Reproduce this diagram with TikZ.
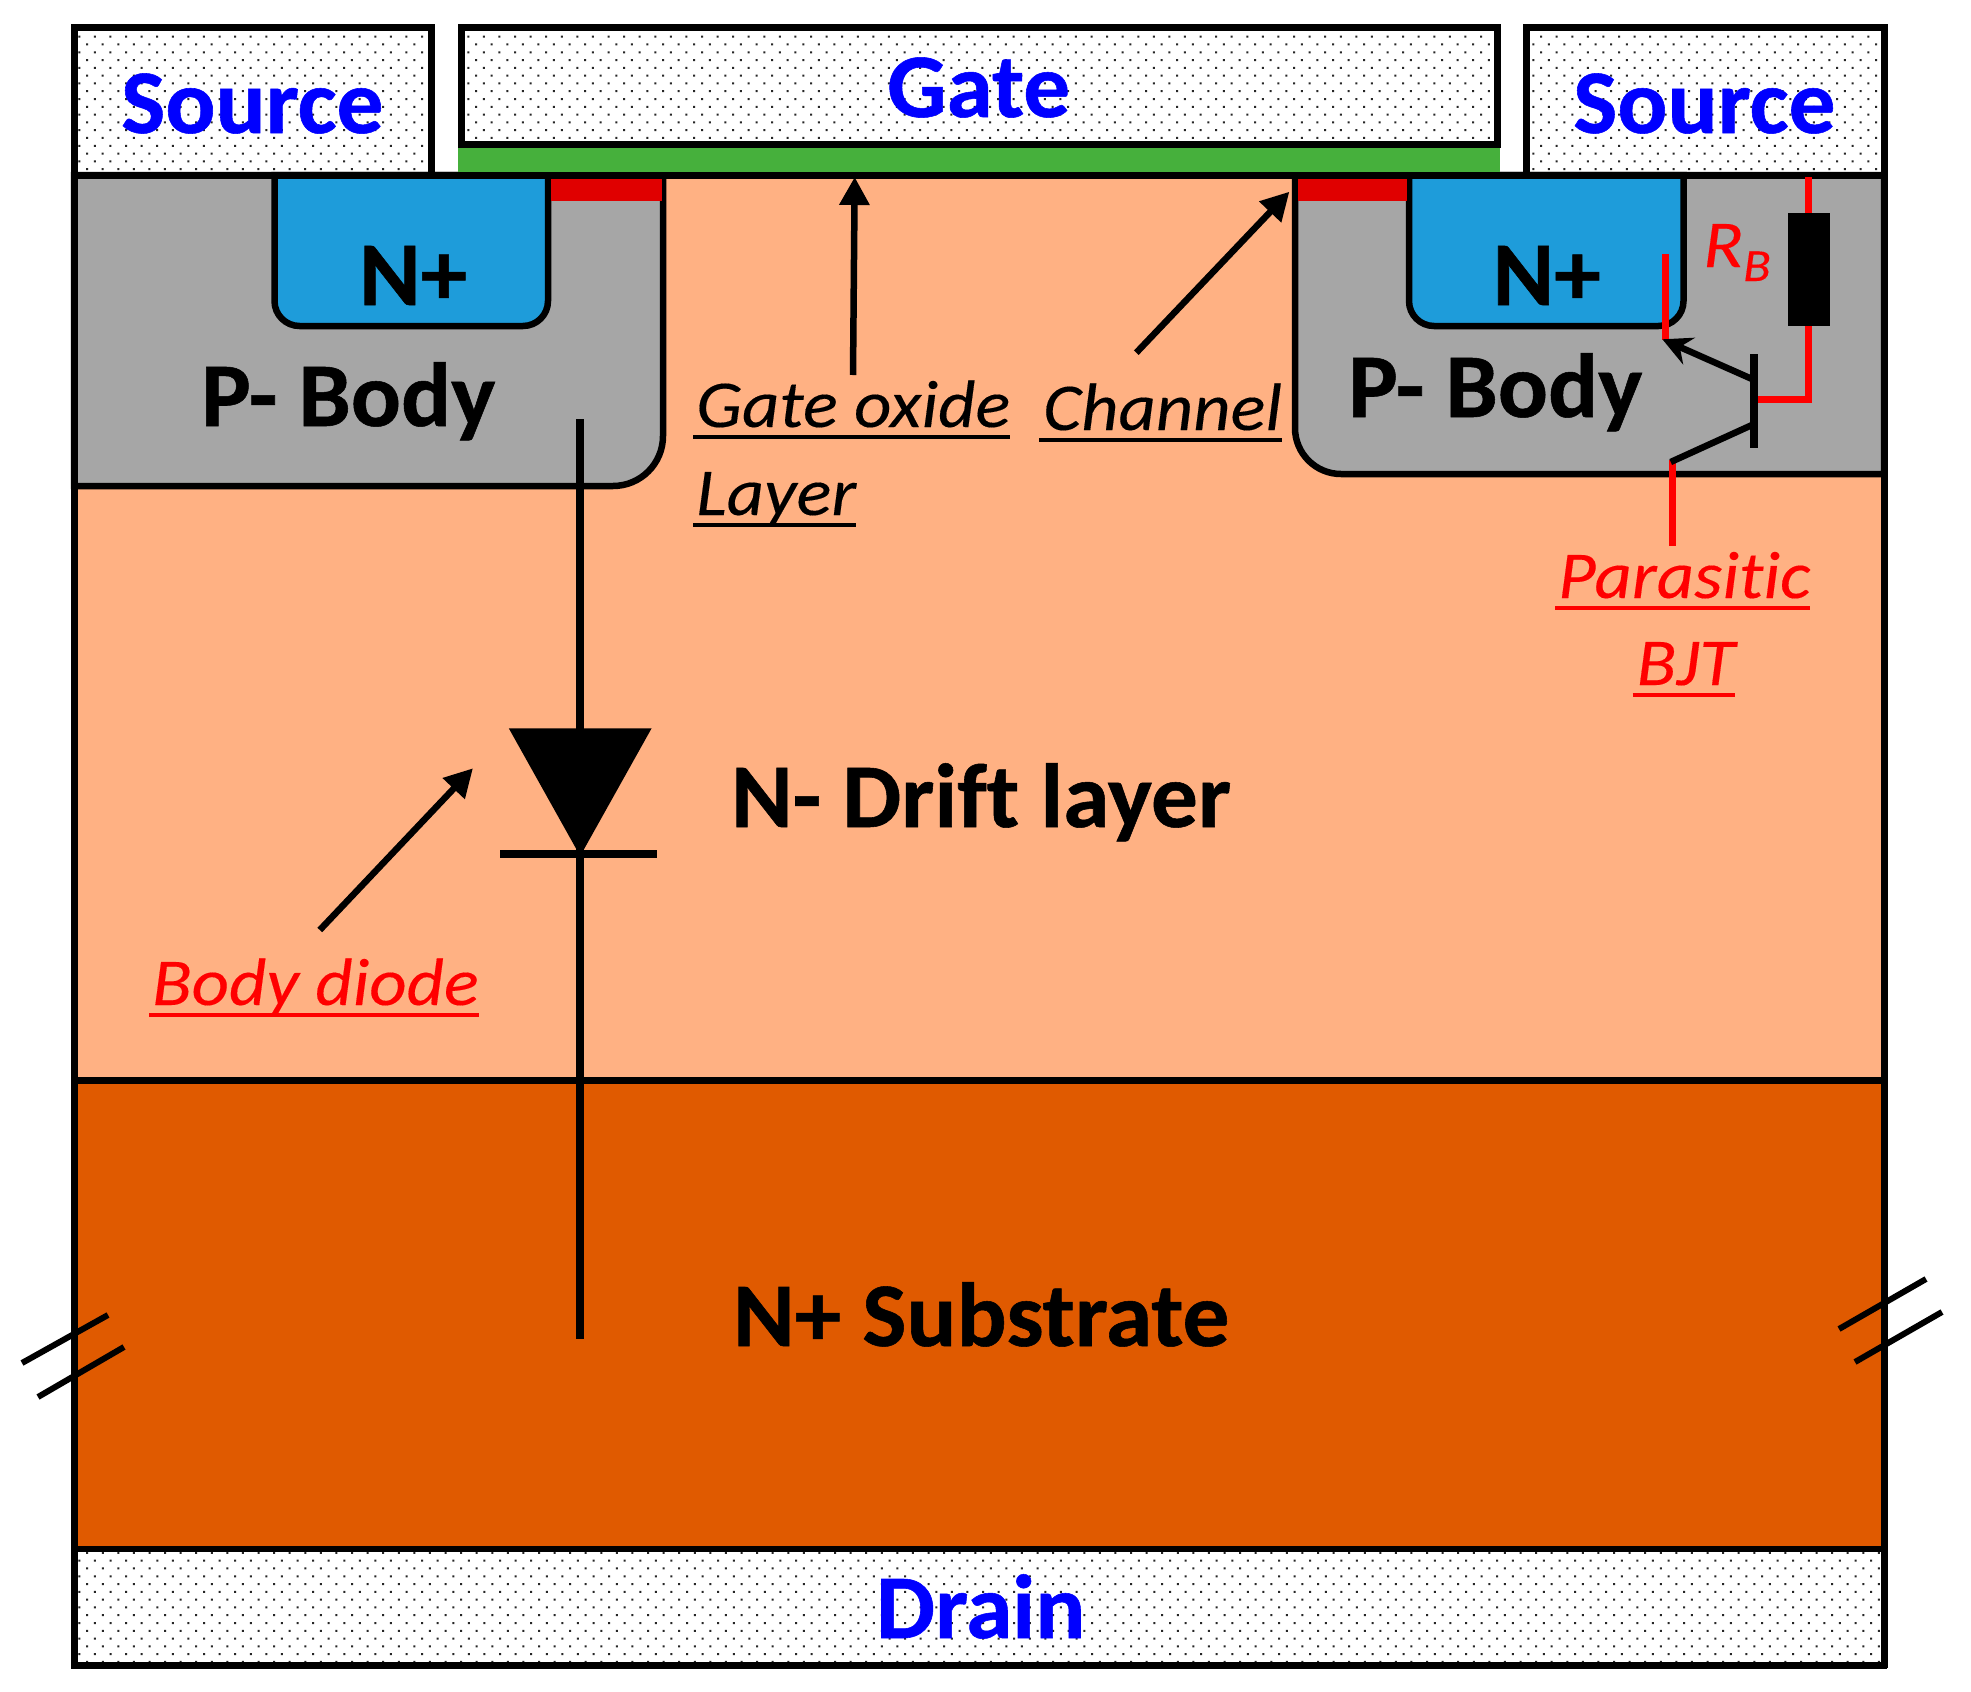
\documentclass[tikz,border=0pt]{standalone}
\usepackage{fontspec}
\setmainfont{Carlito}[Ligatures=NoCommon,BoldFeatures={FakeBold=0.6},ItalicFeatures={FakeBold=0.2}]
\usetikzlibrary{arrows.meta}
\definecolor{drift}{HTML}{FFB183}
\definecolor{subs}{HTML}{E05A00}
\definecolor{body}{HTML}{A6A6A6}
\definecolor{nplus}{HTML}{1E9CDA}
\definecolor{oxide}{HTML}{46B03C}
\definecolor{chan}{HTML}{E00000}
\newcommand{\bstr}[1]{\scalebox{1.026}[1]{#1}}
\newcommand{\ulin}[2][0pt]{\setbox0\hbox{\scalebox{1.085}[1]{#2}}\rlap{\hspace{#1}\rule[-11.5pt]{\dimexpr\wd0-#1\relax}{3.6pt}}\box0}
\newcommand{\dotgrid}[8]{%
  \begin{scope}
    \clip (#1,#2) rectangle (#3,#4);
    \fill[black!85] \foreach \i in {0,...,#7} {\foreach \j in {0,...,#8} {
      ({#5+\j*15.58+mod(\i,2)*7.79-1},{#6+\i*7.79-1}) rectangle ++(2,2)
    }};
  \end{scope}}
\tikzset{
  x=1pt,y=-1pt,
  frame/.style={draw=black,line width=7pt},
  thin frame/.style={draw=black,line width=6.5pt},
  term/.style={font=\fontsize{91}{91}\selectfont\bfseries,text=blue,inner sep=0pt,anchor=base west},
  big/.style={font=\fontsize{91}{91}\selectfont\bfseries,text=black,inner sep=0pt,anchor=base west},
  note/.style={font=\fontsize{67}{67}\selectfont\itshape,text=black,inner sep=0pt,anchor=base west},
  rednote/.style={note,text=red},
  lead/.style={draw=black,line width=6.5pt,-{Triangle[length=28pt,width=29pt]}},
  wire/.style={draw=black,line width=8pt},
  redwire/.style={draw=red,line width=7pt},
  hash/.style={draw=black,line width=6pt},
}
\begin{document}
\begin{tikzpicture}
\useasboundingbox (0,0) rectangle (1971,1692);
\fill[white] (0,0) rectangle (1971,1692);
% layers
\fill[drift] (74,175) rectangle (1884,1080);
\fill[subs] (74,1080) rectangle (1884,1549);
% body regions
\path[fill=body,thin frame] (74,175) -- (663,175) -- (663,436) arc[start angle=0,end angle=90,radius=50] -- (74,486) -- cycle;
\path[fill=body,thin frame] (1295,175) -- (1884,175) -- (1884,474) -- (1341,474) arc[start angle=90,end angle=180,radius=46] -- cycle;
% N+ wells
\path[fill=nplus,thin frame] (274.5,175) -- (548,175) -- (548,301) arc[start angle=0,end angle=90,radius=25] -- (299.5,326) arc[start angle=90,end angle=180,radius=25] -- cycle;
\path[fill=nplus,thin frame] (1409,175) -- (1683.5,175) -- (1683.5,301) arc[start angle=0,end angle=90,radius=25] -- (1434,326) arc[start angle=90,end angle=180,radius=25] -- cycle;
% channels
\fill[chan] (551,178) rectangle (662,201);
\fill[chan] (1298,178) rectangle (1407,201);
% gate oxide
\fill[oxide] (458,147) rectangle (1500,172.5);
% dotted terminals
\dotgrid{77}{30}{428}{172}{79.3}{36.7}{18}{23}
\dotgrid{464}{30}{1494}{141}{468.3}{36.7}{14}{66}
\dotgrid{1529}{30}{1881}{172}{1533.3}{28.9}{19}{23}
\dotgrid{78}{1552}{1881}{1663}{71.6}{1552.9}{14}{116}
\draw[frame] (74.5,172) -- (74.5,27) -- (431,27) -- (431,172);
\draw[frame] (461,27) rectangle (1497,144);
\draw[frame] (1526.5,172) -- (1526.5,27) -- (1884,27) -- (1884,172);
% outer lines
\draw[frame] (74.5,172) -- (74.5,1668.3);
\draw[frame] (1884,172) -- (1884,1668.3);
\draw[thin frame] (74,1080.5) -- (1884,1080.5);
\draw[thin frame] (74,1549) -- (1884,1549);
\draw[thin frame] (71,1665.5) -- (1887,1665.5);
\draw[frame] (71,175) -- (1887,175);
% break marks
\coordinate (hl1a) at (22,1363); \coordinate (hl1b) at (108,1315);
\coordinate (hl2a) at (38,1397); \coordinate (hl2b) at (124,1347);
\coordinate (hr1a) at (1839,1329); \coordinate (hr1b) at (1926,1279);
\coordinate (hr2a) at (1855,1362); \coordinate (hr2b) at (1942,1312);
\draw[hash] (hl1a) -- (hl1b);
\draw[hash] (hl2a) -- (hl2b);
\draw[hash] (hr1a) -- (hr1b);
\draw[hash] (hr2a) -- (hr2b);
% body diode
\coordinate (dA) at (580.2,419); \coordinate (dK) at (580.2,1339);
\coordinate (dT1) at (508.8,728.3); \coordinate (dT2) at (651.6,728.3); \coordinate (dT3) at (580.2,856);
\coordinate (dB1) at (500,854); \coordinate (dB2) at (657.3,854);
\draw[wire] (dA) -- (dK);
\fill[black] (dT1) -- (dT2) -- (dT3) -- cycle;
\draw[wire] (dB1) -- (dB2);
% resistor and BJT
\coordinate (rTop) at (1808.6,177); \coordinate (rIn) at (1808.6,213);
\coordinate (rOut) at (1808.6,325); \coordinate (rC) at (1808.6,399); \coordinate (bB) at (1757,399);
\draw[redwire] (rTop) -- (rIn);
\draw[redwire] (rOut) -- (rC) -- (bB);
\node[draw=none,fill=black,minimum width=42.5pt,minimum height=112.5pt,inner sep=0pt] (rb) at (1808.75,269.25) {};
\coordinate (bT) at (1754,354); \coordinate (bBot) at (1754,448);
\draw[wire] (bT) -- (bBot);
\coordinate (eS) at (1752,379); \coordinate (eE) at (1662.4,339.3);
\coordinate (cS) at (1752,425); \coordinate (cE) at (1670.7,462);
\coordinate (eW) at (1665,254); \coordinate (eW2) at (1665,340);
\coordinate (cW) at (1672.5,460); \coordinate (cW2) at (1672.5,546);
\draw[redwire] (eW) -- (eW2);
\draw[redwire] (cW) -- (cW2);
\draw[draw=black,line width=6.5pt,-{Stealth[length=29pt,width=29pt,inset=10pt]}] (eS) -- (eE);
\draw[draw=black,line width=6.5pt] (cS) -- (cE);
% lead arrows
\coordinate (a1s) at (853,375); \coordinate (a1e) at (854.7,177);
\coordinate (a2s) at (1136.3,352.7); \coordinate (a2e) at (1289.4,191.7);
\coordinate (a3s) at (319.8,930); \coordinate (a3e) at (472.9,768.3);
\draw[lead] (a1s) -- (a1e);
\draw[lead] (a2s) -- (a2e);
\draw[lead] (a3s) -- (a3e);
% labels
\node[term] (srcL) at (121,133) {\bstr{Source}};
\node[term] (gate) at (887,117) {\bstr{Gate}};
\node[term] (srcR) at (1573,133) {\bstr{Source}};
\node[term] (drain) at (876,1638) {\bstr{Drain}};
\node[big] (nL) at (359,305) {\bstr{N+}};
\node[big] (nR) at (1492.5,305) {\bstr{N+}};
\node[big] (pL) at (201,426) {\bstr{P- Body}};
\node[big] (pR) at (1348,417) {\bstr{P- Body}};
\node[big] (drift) at (731,827) {\bstr{N- Drift layer}};
\node[big] (subst) at (733,1346) {\bstr{N+ Substrate}};
\node[note] (gox) at (696,427) {\ulin[-3pt]{Gate oxide}};
\node[note] (lay) at (696,515) {\ulin[-3pt]{Layer}};
\node[note] (chn) at (1043,430) {\ulin[-4pt]{Channel}};
\node[rednote] (bd) at (152,1005) {\ulin[-3pt]{Body diode}};
\node[rednote] (par) at (1558,598) {\ulin[-3pt]{Parasitic}};
\node[rednote] (bjt) at (1636.5,685) {\ulin[-4pt]{BJT}};
\node[rednote] (rlab) at (1703,267) {\scalebox{1.1}[1]{R}\raisebox{-14pt}{\fontsize{46}{46}\selectfont\scalebox{1.1}[1]{B}}};
\end{tikzpicture}
\end{document}
